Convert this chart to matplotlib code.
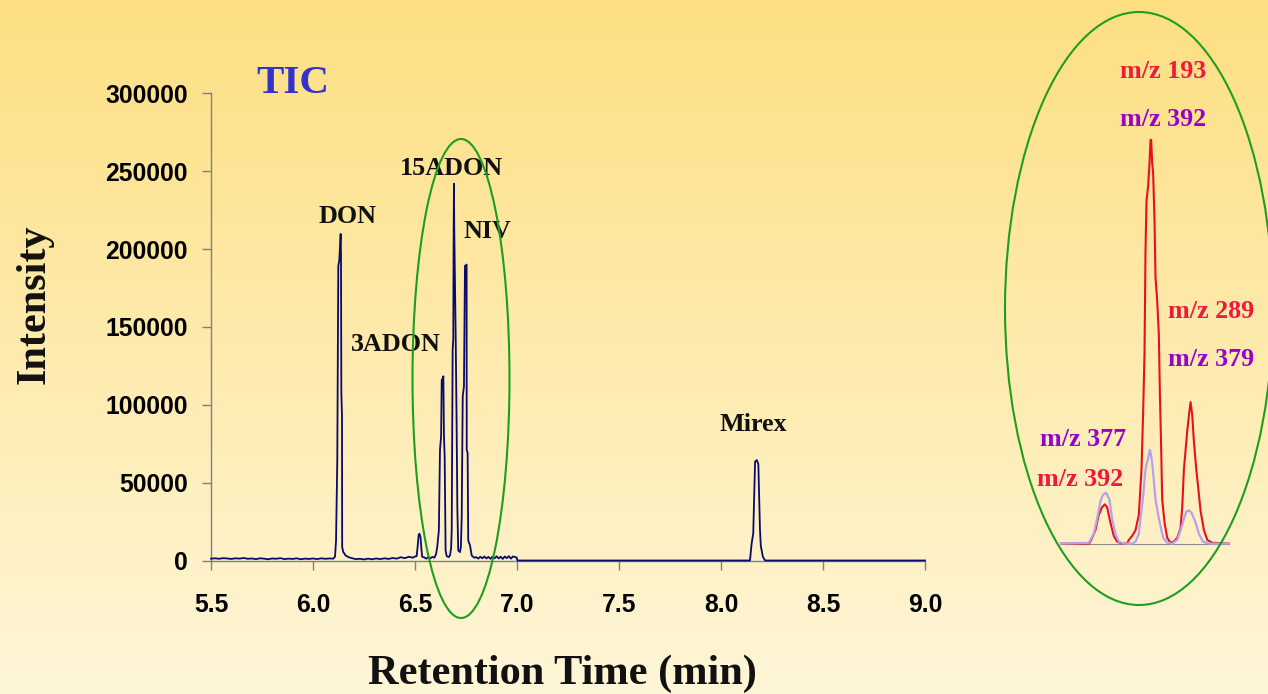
import numpy as np
import matplotlib
matplotlib.use('Agg')
import matplotlib.pyplot as plt
from matplotlib.patches import Ellipse

# ---------------- data ----------------
tic_time = [
    5.50, 5.52, 5.54, 5.56, 5.58, 5.60, 5.62, 5.64, 5.66, 5.68,
    5.70, 5.72, 5.74, 5.76, 5.78, 5.80, 5.82, 5.84, 5.86, 5.88,
    5.90, 5.92, 5.94, 5.96, 5.98, 6.00, 6.02, 6.04, 6.06, 6.08,
    6.100, 6.108, 6.113, 6.119, 6.124, 6.129, 6.1356, 6.1373, 6.1389, 6.1422,
    6.1430, 6.1487, 6.160, 6.175, 6.19, 6.21, 6.23, 6.25, 6.27, 6.29,
    6.31, 6.33, 6.35, 6.37, 6.39, 6.41, 6.43, 6.45, 6.47, 6.49,
    6.500, 6.508, 6.513, 6.518, 6.522, 6.527, 6.531, 6.535, 6.545, 6.555,
    6.565, 6.575, 6.585, 6.595, 6.603, 6.609, 6.617, 6.6225, 6.628, 6.631,
    6.637, 6.639, 6.642, 6.6455, 6.650, 6.655, 6.660, 6.666, 6.672, 6.677,
    6.680, 6.6846, 6.6876, 6.6895, 6.691, 6.6925, 6.6994, 6.704, 6.7075, 6.712,
    6.7206, 6.725, 6.729, 6.734, 6.740, 6.745, 6.753, 6.7535, 6.758, 6.761,
    6.7696, 6.778, 6.79, 6.80, 6.81, 6.82, 6.83, 6.84, 6.85, 6.86,
    6.87, 6.88, 6.89, 6.90, 6.91, 6.92, 6.93, 6.94, 6.95, 6.96,
    6.97, 6.98, 6.99, 6.998, 7.002, 8.142, 8.150, 8.158, 8.162, 8.167,
    8.175, 8.183, 8.188, 8.191, 8.195, 8.205, 8.216, 9.00,
]
tic_intensity = [
    1200, 1400, 1100, 1500, 1300, 1000, 1400, 1200, 1600, 1100,
    1300, 900, 1400, 1200, 800, 1300, 1100, 1500, 900, 1200,
    1000, 1400, 800, 1200, 1000, 1300, 900, 1400, 1100, 1300,
    1200, 2500, 12900, 64500, 189000, 193000, 209700, 195700, 107700, 92500,
    8600, 5400, 3200, 2100, 1500, 900, 1100, 700, 1200, 800,
    1300, 900, 1400, 1000, 1600, 1200, 2100, 1500, 2400, 1800,
    2600, 2800, 9000, 16500, 17200, 15000, 8000, 2400, 2000, 1200,
    2200, 1400, 2300, 1800, 4000, 8600, 19400, 71000, 80000, 116000,
    117000, 118300, 79500, 66600, 6450, 3000, 2500, 2200, 3500, 8000,
    19400, 135500, 142000, 212900, 241900, 213000, 144000, 88300, 34400, 6450,
    5400, 9000, 28000, 105400, 111800, 189200, 190000, 71000, 69000, 12900,
    9700, 3200, 1800, 2200, 1200, 2400, 1400, 2600, 1300, 2300,
    1100, 2500, 1400, 2700, 1300, 2400, 1000, 2600, 1500, 2800,
    1200, 2600, 2200, 2000, 0, 0, 10700, 17400, 38700, 63400,
    64500, 62000, 36600, 20000, 9600, 2500, 0, 0,
]
x_ticks = [5.5, 6.0, 6.5, 7.0, 7.5, 8.0, 8.5, 9.0]
x_tick_labels = ['5.5', '6.0', '6.5', '7.0', '7.5', '8.0', '8.5', '9.0']
y_ticks = [0, 50000, 100000, 150000, 200000, 250000, 300000]
y_tick_labels = ['0', '50000', '100000', '150000', '200000', '250000', '300000']
peak_names = ['DON', '3ADON', '15ADON', 'NIV', 'Mirex']

# inset (extracted ion chromatograms, scan index vs relative abundance %)
inset_scan_red = [187, 270, 275, 290, 300, 310, 318, 325, 335, 345,
                  355, 370, 385, 390, 400, 410, 420, 428, 433, 437,
                  440, 443, 448, 452, 455, 457, 460, 463, 467, 470,
                  475, 480, 483, 487, 490, 497, 505, 515, 525, 535,
                  545, 550, 555, 565, 570, 575, 580, 585, 592, 598,
                  605, 615, 625, 640, 690]
inset_red = [0, 0, 0.5, 3.3, 7.1, 9.0, 9.7, 9.0, 5.2, 1.9,
             0.5, 0, 0, 0.9, 1.9, 3.3, 7.1, 18.4, 32.6, 46.8,
             72.4, 84.7, 88.5, 94.1, 99.8, 99.8, 94.1, 91.3, 79.9, 65.8,
             60.1, 51.6, 37.4, 23.2, 10.9, 5.2, 1.4, 0.2, 0.5, 1.4,
             3.8, 9.0, 18.4, 27.9, 31.7, 35.0, 31.7, 25.1, 18.4, 13.7,
             8.0, 3.3, 0.9, 0.2, 0]
inset_scan_purple = [187, 270, 285, 295, 305, 312, 322, 332, 340, 350,
                     360, 375, 400, 410, 420, 425, 432, 440, 447, 453,
                     458, 462, 470, 478, 485, 493, 505, 520, 535, 545,
                     555, 563, 570, 578, 590, 600, 612, 630, 690]
inset_purple = [0, 0.2, 2.4, 6.1, 10.4, 12.0, 12.6, 10.9, 6.1, 2.4,
                0.5, 0, 0, 0.5, 2.4, 6.1, 10.9, 18.4, 20.8, 23.2,
                21.3, 18.4, 10.9, 7.1, 4.3, 1.4, 0.2, 0, 0.9, 3.3,
                6.1, 8.0, 8.2, 7.6, 5.2, 2.4, 0.5, 0, 0]
inset_labels = ['m/z 193', 'm/z 392', 'm/z 289', 'm/z 379', 'm/z 377', 'm/z 392']

# ---------------- figure ----------------
W, H = 1268, 694
DPI = 100
plt.rcParams['font.family'] = ['Liberation Sans', 'DejaVu Sans']
plt.rcParams['font.weight'] = 'bold'

fig = plt.figure(figsize=(W / DPI, H / DPI), dpi=DPI)

def fx(px):
    return px / W

def fy(py):
    return 1 - py / H

# background gradient
bg = fig.add_axes([0, 0, 1, 1], zorder=-10)
top = np.array([253, 223, 130]) / 255.0
bot = np.array([255, 246, 216]) / 255.0
t = np.linspace(0, 1, 256)[:, None]
grad = top[None, :] * (1 - t) + bot[None, :] * t
bg.imshow(grad[:, None, :], aspect='auto', extent=[0, 1, 0, 1])
bg.set_axis_off()

# main axes
ax = fig.add_axes([fx(211), fy(560.5), fx(714), 467.2 / H])
ax.set_facecolor('none')
ax.plot(tic_time, tic_intensity, color='#0A0A6A', lw=1.3, zorder=3, clip_on=False)
ax.set_xlim(5.5, 9.0)
ax.set_ylim(0, 300000)
for s in ['top', 'right']:
    ax.spines[s].set_visible(False)
for s in ['left', 'bottom']:
    ax.spines[s].set_color('#808080')
    ax.spines[s].set_linewidth(1.0)
ax.set_xticks(x_ticks)
ax.set_xticklabels(x_tick_labels)
ax.set_yticks(y_ticks)
ax.set_yticklabels(y_tick_labels)
ax.tick_params(axis='both', direction='out', length=6.5, width=1.0, color='#808080',
               labelsize=17.8, labelcolor='#000000')
ax.tick_params(axis='x', pad=17)
ax.tick_params(axis='y', pad=10)
for lab in ax.get_xticklabels() + ax.get_yticklabels():
    lab.set_fontweight('bold')
    lab.set_fontfamily('Liberation Sans')

serif = 'Liberation Serif'
# axis titles
fig.text(fx(562), fy(684), 'Retention Time (min)', fontsize=30.5, fontweight='bold',
         family=serif, ha='center', va='baseline', color='#111111')
fig.text(fx(45), fy(304), 'Intensity', fontsize=30.5, fontweight='bold', family=serif,
         ha='center', va='baseline', rotation=90, rotation_mode='anchor', color='#111111')
fig.text(fx(292.5), fy(93.3), 'TIC', fontsize=29.5, fontweight='bold', family=serif,
         ha='center', va='baseline', color='#3333CC')

# peak labels
peak_pos = [(348, 223), (396, 351), (451, 175), (487, 238), (753, 431)]
for name, (px, py) in zip(peak_names, peak_pos):
    fig.text(fx(px), fy(py), name, fontsize=18.8, fontweight='bold', family=serif,
             ha='center', va='baseline', color='#111111')

# inset
ax2 = fig.add_axes([fx(1061), fy(543.6), fx(168), 404.4 / H])
ax2.set_xlim(187, 690)
ax2.set_ylim(0, 100)
ax2.set_axis_off()
ax2.axhline(0, color='#8C8C8C', lw=0.8, zorder=1, clip_on=False)
ax2.plot(inset_scan_red, inset_red, color='#E8101E', lw=1.5, zorder=2, clip_on=False)
ax2.plot(inset_scan_purple, inset_purple, color='#B4A2F0', lw=1.6, zorder=3, clip_on=False)

red_c = '#F0183C'
pur_c = '#9900CC'
inset_pos = [(1163, 78.5, red_c), (1163, 126.5, pur_c), (1211, 318.5, red_c),
             (1211, 366, pur_c), (1083, 446.5, pur_c), (1080, 485.5, red_c)]
for lab, (px, py, c) in zip(inset_labels, inset_pos):
    fig.text(fx(px), fy(py), lab, fontsize=18.7, fontweight='bold', family=serif,
             ha='center', va='baseline', color=c)

# green ellipses
green = '#1E9E1E'
e1 = Ellipse((fx(461), fy(378.5)), 97 / W, 479 / H, transform=fig.transFigure,
             fill=False, ec=green, lw=1.5, zorder=5)
e2 = Ellipse((fx(1139), fy(308.5)), 268 / W, 593 / H, transform=fig.transFigure,
             fill=False, ec=green, lw=1.5, zorder=5)
fig.add_artist(e1)
fig.add_artist(e2)

fig.savefig('out.png', dpi=DPI)
